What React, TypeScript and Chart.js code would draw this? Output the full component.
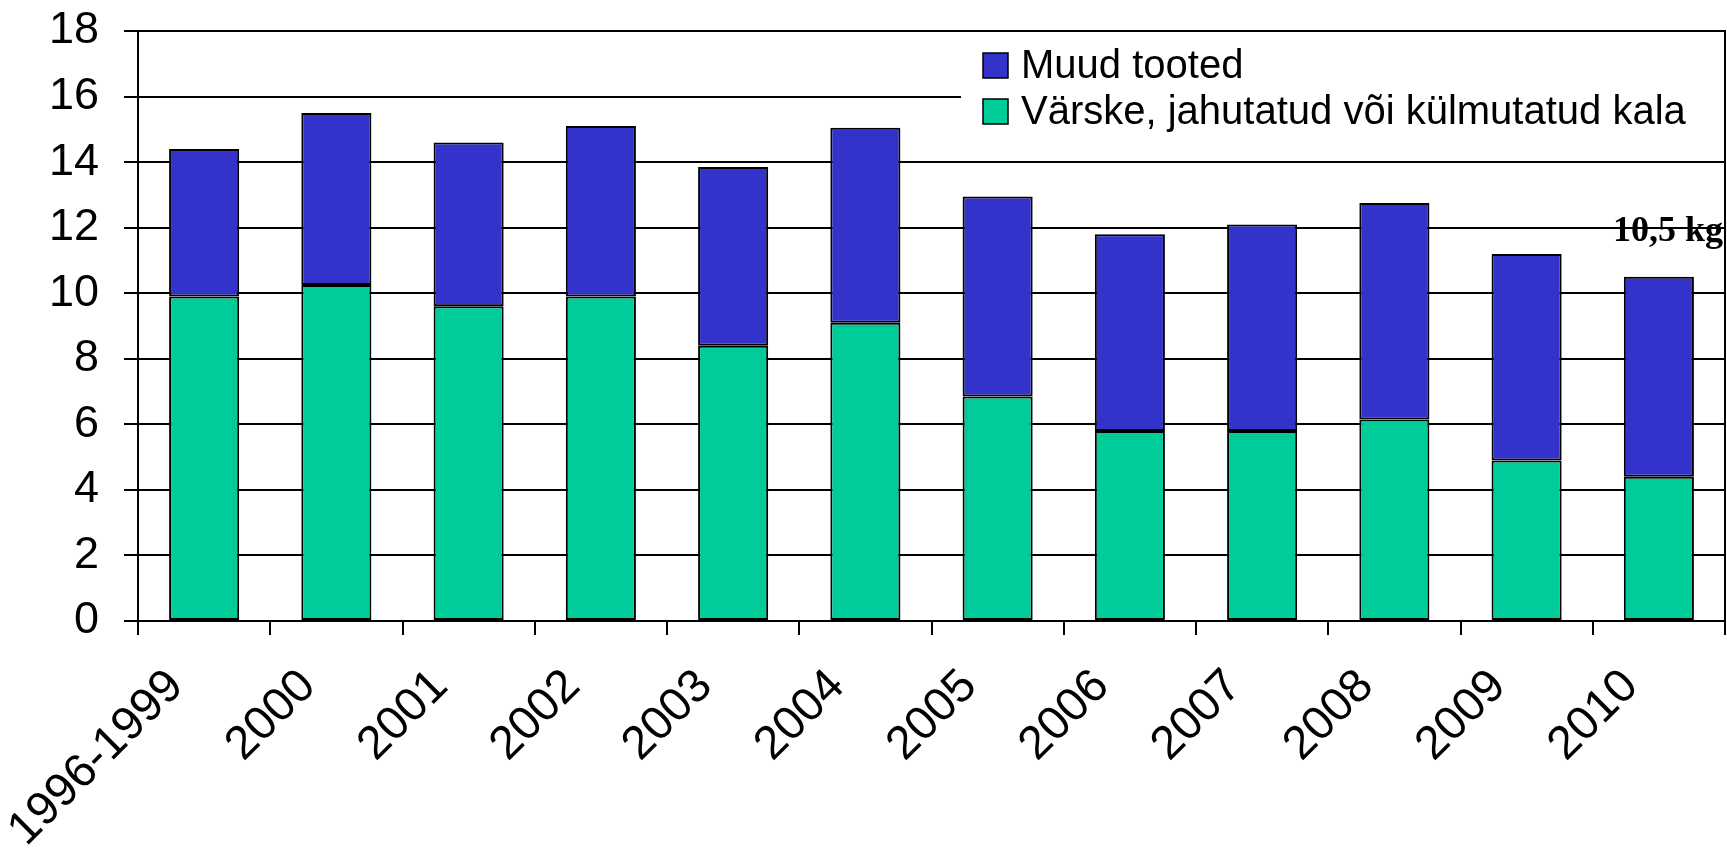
import React, { useEffect, useRef } from "react";
import { Chart, registerables } from "chart.js";

Chart.register(...registerables);

const categories = ["1996-1999", "2000", "2001", "2002", "2003", "2004", "2005", "2006", "2007", "2008", "2009", "2010"];
const freshFish = [9.9, 10.25, 9.6, 9.9, 8.4, 9.1, 6.85, 5.8, 5.8, 6.15, 4.9, 4.4];
const otherProducts = [4.5, 5.25, 5.0, 5.2, 5.45, 5.95, 6.1, 6.0, 6.3, 6.6, 6.3, 6.1];
const seriesLabels = ["Värske, jahutatud või külmutatud kala", "Muud tooted"];
const seriesColors = ["#00CC99", "#3333CC"];
const yMin = 0;
const yMax = 18;
const yStep = 2;
const lastTotalLabel = "10,5 kg";
const lastTotalLabelValue = 12;

const overlayPlugin = {
  id: "overlay",
  afterDraw(chart: any) {
    const { ctx, chartArea, scales } = chart;
    const y = scales.y;
    ctx.save();
    // right border
    ctx.strokeStyle = "#000";
    ctx.lineWidth = 2;
    ctx.beginPath();
    ctx.moveTo(chartArea.right, chartArea.top - 1);
    ctx.lineTo(chartArea.right, chartArea.bottom + 14);
    ctx.stroke();

    // legend (inside plot area, white background)
    const lx = 961;
    const ly = 33;
    ctx.fillStyle = "#fff";
    ctx.fillRect(lx, ly, chartArea.right - 1 - lx, 104);
    const ds = chart.data.datasets.slice().reverse();
    ctx.font = "40px 'Liberation Sans', Arial, sans-serif";
    ctx.textBaseline = "middle";
    ctx.textAlign = "left";
    ds.forEach((d: any, i: number) => {
      const cy = 65.5 + i * 46;
      ctx.fillStyle = d.backgroundColor;
      ctx.fillRect(983, cy - 12.5, 25, 25);
      ctx.strokeStyle = "#000";
      ctx.lineWidth = 1.5;
      ctx.strokeRect(983, cy - 12.5, 25, 25);
      ctx.fillStyle = "#000";
      ctx.fillText(d.label, 1021, cy + 1);
    });

    // total label for last bar
    ctx.font = "bold 36px 'Liberation Serif', 'Times New Roman', serif";
    ctx.textAlign = "right";
    ctx.textBaseline = "alphabetic";
    ctx.fillStyle = "#000";
    ctx.fillText(lastTotalLabel, chartArea.right - 2, y.getPixelForValue(lastTotalLabelValue) + 13);
    ctx.restore();
  },
};

export default function App() {
  const ref = useRef<HTMLCanvasElement | null>(null);
  useEffect(() => {
    if (!ref.current) return;
    const chart = new Chart(ref.current, {
      type: "bar",
      data: {
        labels: categories,
        datasets: [
          {
            label: seriesLabels[0],
            data: freshFish,
            backgroundColor: seriesColors[0],
            borderColor: "#000",
            borderWidth: 2,
            borderSkipped: false,
            barPercentage: 0.53,
            categoryPercentage: 1,
          },
          {
            label: seriesLabels[1],
            data: otherProducts,
            backgroundColor: seriesColors[1],
            borderColor: "#000",
            borderWidth: 2,
            borderSkipped: false,
            barPercentage: 0.53,
            categoryPercentage: 1,
          },
        ],
      },
      options: {
        responsive: false,
        animation: false,
        devicePixelRatio: 1,
        layout: { padding: { top: 31, right: 2, left: 0, bottom: 0 } },
        plugins: {
          legend: { display: false },
          tooltip: { enabled: false },
        },
        scales: {
          x: {
            stacked: true,
            offset: true,
            grid: {
              offset: true,
              drawOnChartArea: false,
              drawTicks: true,
              tickLength: 14,
              color: "#000",
              lineWidth: 2,
            },
            border: { display: true, color: "#000", width: 2 },
            ticks: {
              autoSkip: false,
              maxRotation: 45,
              minRotation: 45,
              padding: 24,
              labelOffset: -28,
              color: "#000",
              font: { family: "'Liberation Sans', Arial, sans-serif", size: 47 },
            },
            afterFit(scale: any) {
              scale.height = 227;
              scale.paddingLeft = 0;
              scale.paddingRight = 0;
            },
          },
          y: {
            stacked: true,
            min: yMin,
            max: yMax,
            grid: {
              color: "#000",
              lineWidth: 2,
              drawTicks: true,
              tickLength: 14,
            },
            border: { display: true, color: "#000", width: 2 },
            ticks: {
              stepSize: yStep,
              padding: 25,
              color: "#000",
              font: { family: "'Liberation Sans', Arial, sans-serif", size: 45 },
            },
            afterFit(scale: any) {
              scale.width = 138;
              scale.paddingTop = 0;
              scale.paddingBottom = 0;
            },
          },
        },
      },
      plugins: [overlayPlugin],
    } as any);
    return () => chart.destroy();
  }, []);
  return (
    <div style={{ position: "fixed", left: 0, top: 0, width: 1727, height: 848, background: "#fff" }}>
      <canvas ref={ref} width={1727} height={848} style={{ display: "block" }} />
    </div>
  );
}
